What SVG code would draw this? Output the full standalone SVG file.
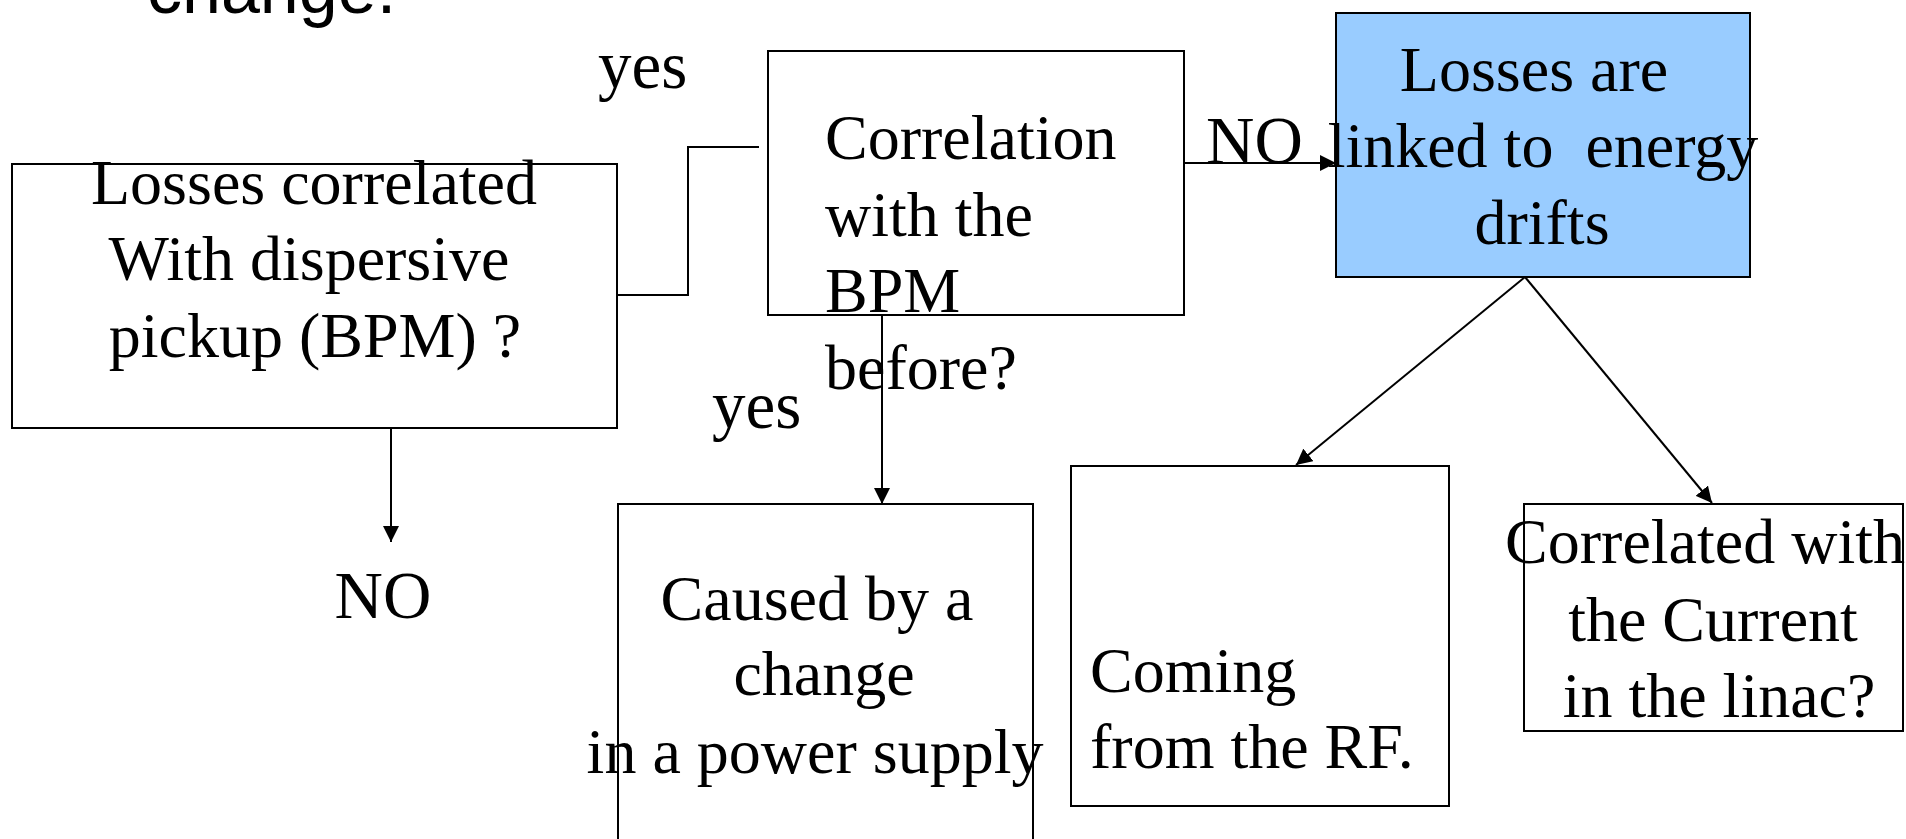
<svg xmlns="http://www.w3.org/2000/svg" width="1906" height="839" viewBox="0 0 1906 839">
<style>
.box{fill:#fff;stroke:#000;stroke-width:2}
.blue{fill:#99CCFF;stroke:#000;stroke-width:2}
.t{font-family:"Liberation Serif","Times New Roman",serif;font-size:64px;fill:#000}
.lbl{font-family:"Liberation Serif","Times New Roman",serif;font-size:67px;fill:#000}
.c{text-anchor:middle}
.ln{fill:none;stroke:#000;stroke-width:2}
</style>
<defs>
<marker id="ah" markerUnits="userSpaceOnUse" markerWidth="17" markerHeight="16" refX="16" refY="8" orient="auto">
<path d="M0,0 L16,8 L0,16 z" fill="#000"/>
</marker>
</defs>
<text x="147" y="13" style="font-family:'Liberation Sans',Arial,sans-serif;font-size:70px">change.</text>
<g id="n1">
<rect class="box" x="12" y="164" width="605" height="264"/>
<text class="t c" x="314" y="204">Losses correlated</text>
<text class="t c" x="309" y="280">With dispersive</text>
<text class="t c" x="315" y="357">pickup (BPM) ?</text>
</g>
<g id="n2">
<rect class="box" x="768" y="51" width="416" height="264"/>
<text class="t" x="825" y="159">Correlation</text>
<text class="t" x="825" y="236">with the</text>
<text class="t" x="825" y="312">BPM</text>
<text class="t" x="825" y="389">before?</text>
</g>
<g id="n3">
<rect class="blue" x="1336" y="13" width="414" height="264"/>
<text class="t c" x="1534" y="91">Losses are</text>
<text class="t c" x="1543" y="167" xml:space="preserve">linked to  energy</text>
<text class="t c" x="1542" y="244">drifts</text>
</g>
<g id="n4">
<rect class="box" x="618" y="504" width="415" height="400"/>
<text class="t c" x="817" y="620">Caused by a</text>
<text class="t c" x="824" y="695">change</text>
<text class="t c" x="815" y="773">in a power supply</text>
</g>
<g id="n5">
<rect class="box" x="1071" y="466" width="378" height="340"/>
<text class="t" x="1090" y="692">Coming</text>
<text class="t" x="1090" y="768">from the RF.</text>
</g>
<g id="n6">
<rect class="box" x="1524" y="504" width="379" height="227"/>
<text class="t c" x="1705" y="563">Correlated with</text>
<text class="t c" x="1713" y="641">the Current</text>
<text class="t c" x="1719" y="717">in the linac?</text>
</g>
<g id="labels">
<text class="lbl" x="598" y="88">yes</text>
<text class="lbl" x="1206" y="163">NO</text>
<text class="lbl" x="712" y="428">yes</text>
<text class="lbl c" x="383" y="618">NO</text>
</g>
<g id="connectors">
<polyline class="ln" points="617,295 688,295 688,147 759,147"/>
<line class="ln" x1="1184" y1="163" x2="1336" y2="163" marker-end="url(#ah)"/>
<line class="ln" x1="882" y1="315" x2="882" y2="504" marker-end="url(#ah)"/>
<line class="ln" x1="391" y1="428" x2="391" y2="542" marker-end="url(#ah)"/>
<line class="ln" x1="1525" y1="277" x2="1296" y2="465" marker-end="url(#ah)"/>
<line class="ln" x1="1525" y1="277" x2="1712" y2="503" marker-end="url(#ah)"/>
</g>
</svg>
